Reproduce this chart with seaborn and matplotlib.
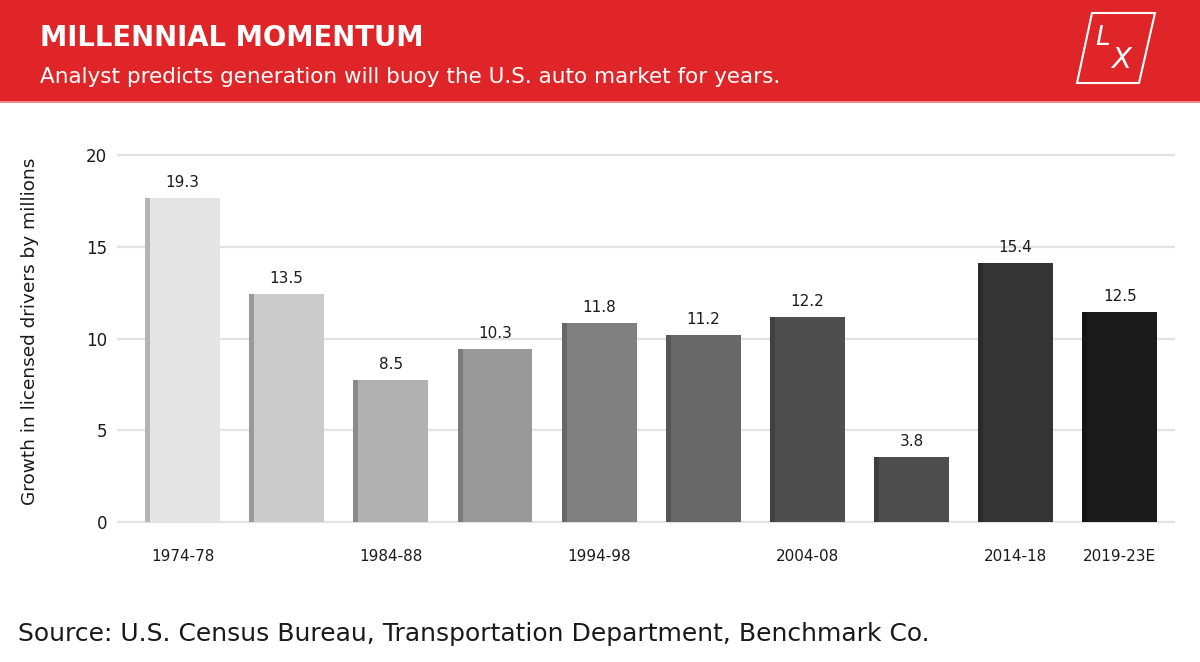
import matplotlib
matplotlib.use("Agg")
import matplotlib.pyplot as plt
from matplotlib.patches import Rectangle, Polygon
import seaborn as sns
import pandas as pd

# periods and values
periods = ["1974-78", "1979-83", "1984-88", "1989-93", "1994-98",
           "1999-03", "2004-08", "2009-13", "2014-18", "2019-23E"]
value_labels = ["19.3", "13.5", "8.5", "10.3", "11.8", "11.2", "12.2", "3.8", "15.4", "12.5"]
bar_heights = [17.66, 12.43, 7.74, 9.43, 10.84, 10.19, 11.16, 3.54, 14.13, 11.46]
shown_ticks = ["1974-78", "", "1984-88", "", "1994-98", "", "2004-08", "", "2014-18", "2019-23E"]
bar_colors = ["#e4e4e4", "#cbcbcb", "#b1b1b1", "#999999", "#808080",
              "#676767", "#4e4e4e", "#4d4d4d", "#343434", "#1b1b1b"]
strip_colors = ["#b3b3b3", "#9a9a9a", "#8a8a8a", "#7a7a7a", "#666666",
                "#555555", "#404040", "#3e3e3e", "#2a2a2a", "#151515"]

df = pd.DataFrame({"period": periods, "growth": bar_heights})

sns.set_theme(style="white")
plt.rcParams["font.family"] = ["DejaVu Sans"]

fig = plt.figure(figsize=(12, 6.62), dpi=100)

# red header band
fig.patches.append(Rectangle((0, 1 - 101 / 662), 1, 101 / 662, transform=fig.transFigure,
                             facecolor="#df2527", edgecolor="none", zorder=0))
fig.patches.append(Rectangle((0, 1 - 103 / 662), 1, 2 / 662, transform=fig.transFigure,
                             facecolor="#ec8a8a", edgecolor="none", zorder=0))
fig.text(40 / 1200, 1 - 38 / 662, "MILLENNIAL MOMENTUM", color="white",
         fontsize=19.8, fontweight="bold", va="center", ha="left")
fig.text(40 / 1200, 1 - 77 / 662, "Analyst predicts generation will buoy the U.S. auto market for years.",
         color="white", fontsize=15.5, va="center", ha="left")

# logo
logo = [(1092, 13), (1155, 13), (1139, 83), (1077, 83)]
fig.patches.append(Polygon([(x / 1200, 1 - y / 662) for x, y in logo], closed=True,
                           transform=fig.transFigure, facecolor="none",
                           edgecolor="white", linewidth=1.5))
fig.text(1103 / 1200, 1 - 38 / 662, "L", color="white", fontsize=19,
         fontstyle="italic", ha="center", va="center")
fig.text(1121 / 1200, 1 - 60 / 662, "X", color="white", fontsize=21,
         fontstyle="italic", ha="center", va="center")

# chart area
ax = fig.add_axes([117 / 1200, 1 - 524 / 662, (1175 - 117) / 1200, (524 - 153) / 662])
sns.barplot(data=df, x="period", y="growth", hue="period", palette=bar_colors,
            width=0.72, saturation=1, legend=False, ax=ax, zorder=2,
            edgecolor="none", linewidth=0)

# darker left edge on each bar
for i, h in enumerate(bar_heights):
    ax.bar(i - 0.36 + 0.024, h, width=0.048, color=strip_colors[i], zorder=3, linewidth=0)
    ax.annotate(value_labels[i], (i, h), xytext=(0, 11), textcoords="offset points",
                ha="center", va="center", fontsize=11, color="#1a1a1a")

ax.set_xlim(-0.63, 9.53)
ax.set_ylim(-0.1, 20.1)
ax.set_yticks([0, 5, 10, 15, 20])
ax.set_yticklabels(["0", "5", "10", "15", "20"])
ax.set_xticks(range(len(periods)))
ax.set_xticklabels(shown_ticks)
ax.yaxis.grid(True, color="#e2e2e2", linewidth=1.6, zorder=0)
ax.set_axisbelow(True)
for s in ax.spines.values():
    s.set_visible(False)
ax.tick_params(axis="x", length=0, pad=18, labelsize=11, labelcolor="#1a1a1a")
ax.tick_params(axis="y", length=0, pad=7, labelsize=12, labelcolor="#1a1a1a")
ax.set_xlabel("")
ax.set_ylabel("Growth in licensed drivers by millions", fontsize=13.3, color="#1a1a1a")
ax.yaxis.set_label_coords(-(117 - 30) / 1058, 0.52)
ax.yaxis.label.set_va("center")

fig.text(18 / 1200, 1 - 634 / 662, "Source: U.S. Census Bureau, Transportation Department, Benchmark Co.",
         fontsize=18, color="#1a1a1a", ha="left", va="center")

fig.savefig("out.png", dpi=100)
